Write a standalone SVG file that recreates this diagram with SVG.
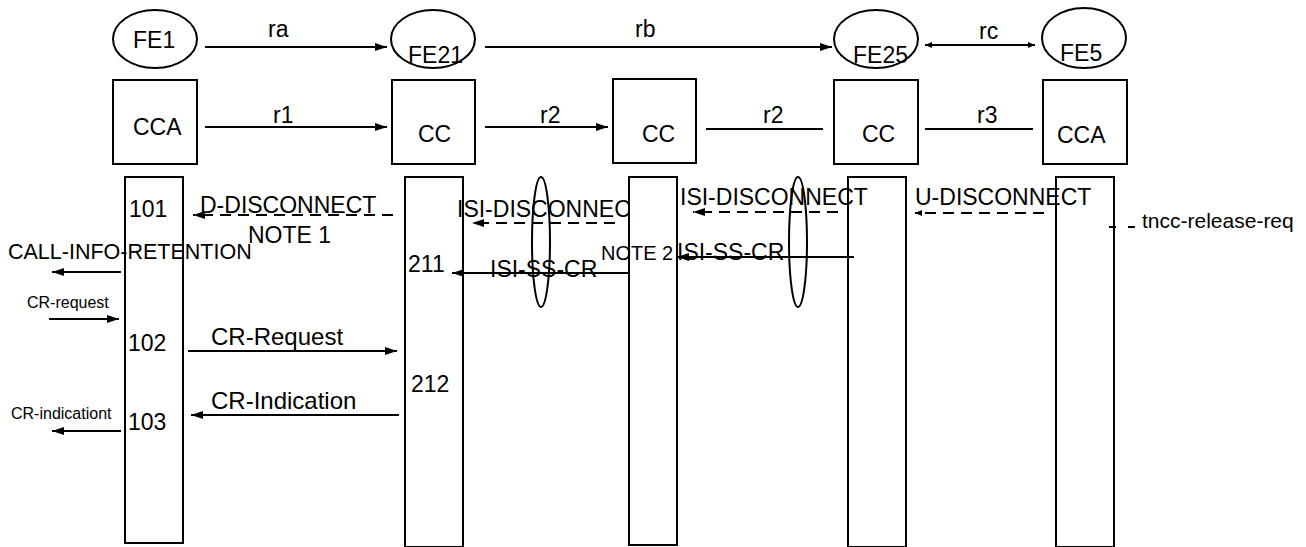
<svg xmlns="http://www.w3.org/2000/svg" width="1306" height="547" viewBox="0 0 1306 547">
<style>
  text { font-family: "Liberation Sans", Arial, sans-serif; font-size: 23px; fill: #000; }
  .sm { font-size: 16px; }
  .shape { fill: none; stroke: #000; stroke-width: 2; }
  .ln { fill: none; stroke: #000; stroke-width: 2; }
  .dash { stroke-dasharray: 11 7; }
</style>
<defs>
  <marker id="ah" markerUnits="userSpaceOnUse" markerWidth="13" markerHeight="10" refX="12" refY="5" orient="auto">
    <path d="M0,1 L12,5 L0,9 z" fill="#000"/>
  </marker>
  <marker id="ahs" markerUnits="userSpaceOnUse" markerWidth="8" markerHeight="8" refX="7" refY="4" orient="auto-start-reverse">
    <path d="M0,1 L7,4 L0,7 z" fill="#000"/>
  </marker>
  <clipPath id="clipIsi"><rect x="440" y="190" width="189" height="40"/></clipPath>
</defs>

<g id="fe1"><ellipse class="shape" cx="155" cy="39" rx="42" ry="29"/><text x="133" y="48">FE1</text></g>
<g id="fe21"><ellipse class="shape" cx="433" cy="39" rx="42" ry="29"/><text x="408" y="63">FE21</text></g>
<g id="fe25"><ellipse class="shape" cx="876" cy="39" rx="42" ry="29"/><text x="853" y="63">FE25</text></g>
<g id="fe5"><ellipse class="shape" cx="1084" cy="38" rx="42" ry="30"/><text x="1060" y="61">FE5</text></g>

<g id="cca1"><rect class="shape" x="113" y="80" width="84" height="84"/><text x="133" y="135">CCA</text></g>
<g id="cc2"><rect class="shape" x="392" y="80" width="83" height="84"/><text x="418" y="142">CC</text></g>
<g id="cc3"><rect class="shape" x="613" y="79" width="83" height="84"/><text x="642" y="142">CC</text></g>
<g id="cc4"><rect class="shape" x="834" y="80" width="84" height="84"/><text x="862" y="142">CC</text></g>
<g id="cca5"><rect class="shape" x="1043" y="80" width="84" height="84"/><text x="1057" y="143">CCA</text></g>

<g id="bar1"><rect class="shape" x="125" y="177" width="58" height="366"/>
  <text x="129" y="217">101</text><text x="128" y="351">102</text><text x="128" y="430">103</text></g>
<g id="bar2"><rect class="shape" x="405" y="177" width="58" height="370"/>
  <text x="408" y="272">211</text><text x="411" y="392">212</text></g>
<g id="bar3"><rect class="shape" x="629" y="177" width="48" height="368"/></g>
<g id="bar4"><rect class="shape" x="848" y="177" width="58" height="370"/></g>
<g id="bar5"><rect class="shape" x="1056" y="177" width="58" height="370"/></g>

<g id="groupings">
  <ellipse class="shape" cx="541" cy="242" rx="9" ry="65"/>
  <ellipse class="shape" cx="798" cy="242" rx="9" ry="65"/>
</g>

<g id="connectors">
  <line class="ln" x1="205" y1="47" x2="387" y2="47" marker-end="url(#ah)"/>
  <line class="ln" x1="485" y1="47" x2="832" y2="47" marker-end="url(#ah)"/>
  <line class="ln" x1="925" y1="45" x2="1035" y2="45" marker-start="url(#ahs)" marker-end="url(#ahs)"/>
  <line class="ln" x1="205" y1="127" x2="387" y2="127" marker-end="url(#ah)"/>
  <line class="ln" x1="485" y1="127" x2="608" y2="127" marker-end="url(#ah)"/>
  <line class="ln" x1="706" y1="129" x2="823" y2="129"/>
  <line class="ln" x1="925" y1="129" x2="1033" y2="129"/>

  <line class="ln dash" x1="393" y1="215" x2="193" y2="215" marker-end="url(#ah)"/>
  <line class="ln" x1="121" y1="272" x2="52" y2="272" marker-end="url(#ah)"/>
  <line class="ln" x1="49" y1="319" x2="119" y2="319" marker-end="url(#ah)"/>
  <line class="ln" x1="188" y1="351" x2="397" y2="351" marker-end="url(#ah)"/>
  <line class="ln" x1="399" y1="415" x2="191" y2="415" marker-end="url(#ah)"/>
  <line class="ln" x1="121" y1="431" x2="52" y2="431" marker-end="url(#ah)"/>

  <line class="ln dash" x1="615" y1="223" x2="472" y2="223" marker-end="url(#ah)"/>
  <line class="ln dash" x1="838" y1="212" x2="693" y2="212" marker-end="url(#ah)"/>
  <line class="ln dash" x1="1044" y1="213" x2="915" y2="213" marker-end="url(#ahs)"/>
  <line class="ln" x1="1109" y1="227" x2="1135" y2="227" stroke-width="1.5" stroke-dasharray="7 12"/>

  <line class="ln" x1="630" y1="273" x2="452" y2="273" marker-end="url(#ah)"/>
  <line class="ln" x1="854" y1="257" x2="677" y2="257" marker-end="url(#ah)"/>
</g>

<g id="labels">
  <text x="268" y="37">ra</text>
  <text x="635" y="37">rb</text>
  <text x="979" y="39">rc</text>
  <text x="273" y="123">r1</text>
  <text x="540" y="123">r2</text>
  <text x="763" y="123">r2</text>
  <text x="977" y="123">r3</text>

  <text x="200" y="213">D-DISCONNECT</text>
  <text x="248" y="243">NOTE 1</text>
  <text x="8" y="259" style="font-size:21.5px">CALL-INFO-RETENTION</text>
  <text class="sm" x="27" y="308">CR-request</text>
  <text x="211" y="345" style="font-size:24px">CR-Request</text>
  <text x="211" y="409" style="font-size:24px">CR-Indication</text>
  <text class="sm" x="11" y="419">CR-indicationt</text>
  <text x="457" y="217" clip-path="url(#clipIsi)">ISI-DISCONNECT</text>
  <text x="680" y="205">ISI-DISCONNECT</text>
  <text x="915" y="205">U-DISCONNECT</text>
  <text x="1142" y="228" style="font-size:21px">tncc-release-req</text>
  <text x="490" y="277">ISI-SS-CR</text>
  <text x="601" y="260" style="font-size:20px">NOTE 2</text>
  <text x="677" y="260">ISI-SS-CR</text>
</g>
</svg>
